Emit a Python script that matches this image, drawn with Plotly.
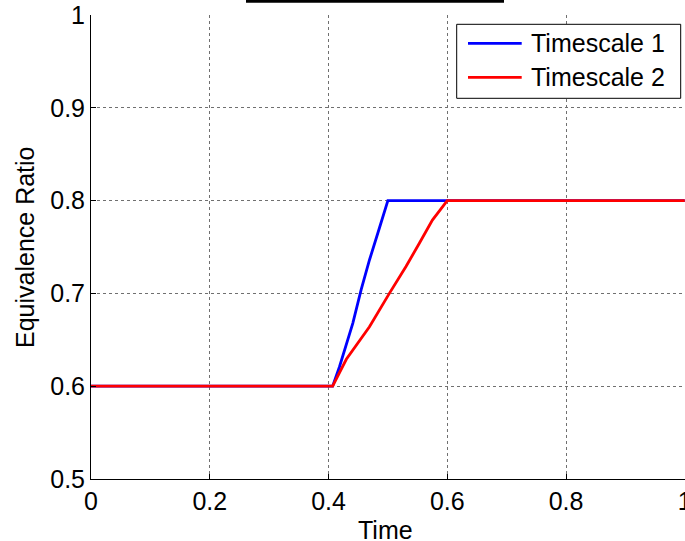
import plotly.graph_objects as go

# Data
t_scale1 = [0.0, 0.407, 0.4185, 0.441, 0.455, 0.469, 0.486, 0.5, 1.0]
phi_scale1 = [0.6, 0.6, 0.621, 0.668, 0.704, 0.736, 0.771, 0.8, 0.8]
t_scale2 = [0.0, 0.407, 0.43, 0.469, 0.5025, 0.5305, 0.553, 0.575, 0.6, 1.0]
phi_scale2 = [0.6, 0.6, 0.629, 0.664, 0.7, 0.729, 0.754, 0.779, 0.8, 0.8]
series_names = ["Timescale 1", "Timescale 2"]
series_colors = ["#0000ff", "#ff0000"]
x_ticks = [0, 0.2, 0.4, 0.6, 0.8, 1]
x_ticktext = ["0", "0.2", "0.4", "0.6", "0.8", "1"]
y_ticks = [0.5, 0.6, 0.7, 0.8, 0.9, 1.0]
y_ticktext = ["0.5", "0.6", "0.7", "0.8", "0.9", "1"]
x_title = "Time"
y_title = "Equivalence Ratio"

FONT = "Liberation Sans, Arial, sans-serif"
FS = 25

fig = go.Figure()
for t, y, name, col in [(t_scale1, phi_scale1, series_names[0], series_colors[0]),
                        (t_scale2, phi_scale2, series_names[1], series_colors[1])]:
    fig.add_trace(go.Scatter(x=t, y=y, mode="lines", name=name,
                             line=dict(color=col, width=2.8), showlegend=False))

W, H = 685, 541
ml, mr, mt, mb = 91, 0, 15, 62
pw, ph = W - ml - mr, H - mt - mb

def px_x(p):
    return (p - ml) / pw

def px_y(p):
    return 1 - (p - mt) / ph

axis_common = dict(
    showline=True, linecolor="black", linewidth=1,
    ticks="inside", ticklen=5, tickcolor="black", tickwidth=1,
    showgrid=True, gridcolor="#707070", gridwidth=1, griddash="dot",
    zeroline=False, ticklabeloverflow="allow", automargin=False,
    tickfont=dict(family=FONT, size=FS, color="black"),
)

fig.update_layout(
    width=W, height=H,
    margin=dict(l=ml, r=mr, t=mt, b=mb, autoexpand=False),
    paper_bgcolor="white", plot_bgcolor="white",
    font=dict(family=FONT, size=FS, color="black"),
    xaxis=dict(range=[0, 1.0004], tickvals=x_ticks, ticktext=x_ticktext, **axis_common),
    yaxis=dict(range=[0.5, 1.0], tickvals=y_ticks, ticktext=y_ticktext, **axis_common),
    xaxis2=dict(range=[0, 1.0004], overlaying="x", side="top", anchor="y",
                tickvals=x_ticks, ticks="inside", ticklen=5, tickcolor="black",
                showticklabels=False, showgrid=False, showline=False, zeroline=False,
                automargin=False),
    showlegend=False,
)

# Axis titles
fig.add_annotation(xref="paper", yref="paper", x=px_x(385.7), y=px_y(530),
                   text=x_title, showarrow=False, xanchor="center", yanchor="middle",
                   font=dict(family=FONT, size=FS, color="black"))
fig.add_annotation(xref="paper", yref="paper", x=px_x(25), y=0.5,
                   text=y_title, showarrow=False, xanchor="center", yanchor="middle",
                   textangle=-90, font=dict(family=FONT, size=FS, color="black"))

# Manual MATLAB-style legend
lx0, lx1, ly0, ly1 = 456.7, 680.7, 24.3, 98.3
fig.add_shape(type="rect", xref="paper", yref="paper",
              x0=px_x(lx0), x1=px_x(lx1), y0=px_y(ly1), y1=px_y(ly0),
              line=dict(color="black", width=1), fillcolor="white", layer="above")
for i, (name, col) in enumerate(zip(series_names, series_colors)):
    yy = px_y(43.3 + 34 * i)
    fig.add_shape(type="line", xref="paper", yref="paper",
                  x0=px_x(468), x1=px_x(521.7), y0=yy, y1=yy,
                  line=dict(color=col, width=2.8), layer="above")
    fig.add_annotation(xref="paper", yref="paper", x=px_x(528.5), y=yy,
                       text=name, showarrow=False, xanchor="left", yanchor="middle",
                       font=dict(family=FONT, size=FS, color="black"))

# Title underline fragment at top
fig.add_shape(type="line", xref="paper", yref="paper",
              x0=px_x(246), x1=px_x(504), y0=px_y(1.3), y1=px_y(1.3),
              line=dict(color="black", width=3))

fig.write_html("out.html")
